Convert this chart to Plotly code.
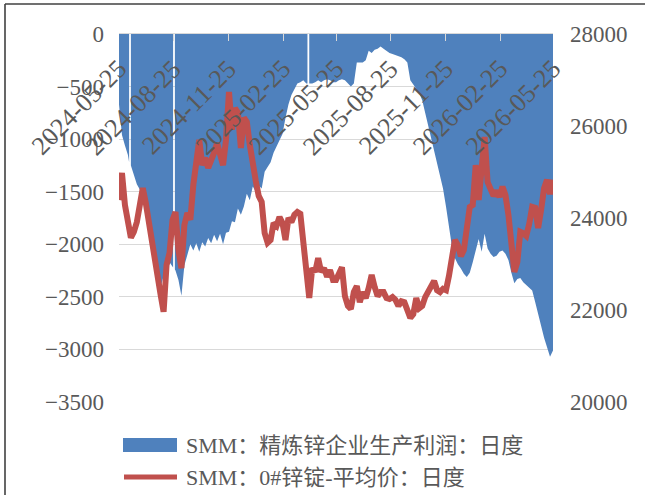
import pandas as pd
import plotly.graph_objects as go

# Sampling dates (every 5 days) shared by both series
dates = pd.date_range("2024-05-25", periods=147, freq="5D")

# Dates with no profit quote (breaks in the area)
profit_gaps = ["2024-06-12", "2024-08-25", "2025-04-08"]
# extra profit quotes on the days next to those breaks
edge_dates = ["2024-06-11", "2024-08-24", "2024-08-27", "2025-04-07"]
edge_profit = [-1220, -2220, -2240, -470]

# SMM refined zinc smelter production profit, yuan/t
profit = [
    -670, -960, -1060, -1150, -1250, -1350, -1430, -1480, -1560, -1690,
    -1830, -1980, -2130, -2210, -2410, -2300, -2320, -2170, -2210, -2250,
    -2340, -2490, -2200, -2110, -2000, -2060, -1990, -2070, -1980, -2020,
    -1940, -1990, -1910, -1970, -1900, -2000, -1890, -1880, -1780, -1790,
    -1660, -1720, -1640, -1520, -1580, -1450, -1500, -1440, -1470, -1310,
    -1260, -1220, -1130, -1070, -1020, -950, -800, -670, -580, -530,
    -470, -460, -440, -470, -470, -470, -460, -440, -460, -440,
    -430, -440, -460, -460, -440, -430, -440, -470, -500, -470,
    -270, -270, -270, -250, -160, -180, -150, -140, -120, -140,
    -160, -180, -190, -200, -210, -220, -240, -270, -440, -480,
    -530, -560, -630, -750, -870, -980, -1080, -1220, -1340, -1470,
    -1640, -1820, -2020, -2130, -2190, -2230, -2280, -2310, -2270, -2170,
    -2060, -1950, -2070, -1900, -2040, -2090, -2120, -2110, -2070, -2060,
    -2090, -2150, -2270, -2370, -2330, -2320, -2360, -2390, -2420, -2440,
    -2550, -2670, -2780, -2890, -2980, -3070, -3010,
]

# SMM 0# zinc ingot average price, yuan/t
price = [
    24390, 24980, 24280, 23960, 23570, 23700, 23910, 24280, 24650, 24330,
    23910, 23480, 22980, 22700, 22330, 21960, 22980, 23240, 23960, 24130,
    23300, 22910, 23850, 24110, 23960, 24720, 25330, 25700, 25150, 25310,
    25090, 25310, 25420, 25630, 25370, 25150, 25700, 26740, 25920, 26390,
    26290, 25520, 26180, 26090, 25590, 25090, 24810, 24480, 24350, 23670,
    23460, 23520, 23890, 23830, 24020, 23890, 23520, 24000, 23910, 24070,
    24130, 24090, 23520, 22760, 22260, 22910, 22830, 23130, 22830, 22910,
    22720, 22870, 22650, 22650, 22830, 22930, 22300, 22090, 22020, 22390,
    22520, 22170, 22390, 22260, 22480, 22760, 22500, 22300, 22390, 22390,
    22260, 22240, 22280, 22220, 22090, 22190, 22170, 22020, 21830, 21910,
    22260, 22040, 22090, 22280, 22410, 22540, 22630, 22430, 22390, 22460,
    22430, 22740, 23130, 23520, 23410, 23170, 23300, 23700, 24240, 24280,
    25150, 24390, 25220, 25760, 24780, 24650, 24480, 24590, 24460, 24680,
    24500, 24070, 23410, 22830, 23040, 23700, 23670, 23610, 23870, 24240,
    24220, 23780, 24180, 24650, 24830, 24520, 24830,
]

tick_dates = ["2024-05-25", "2024-08-25", "2024-11-25", "2025-02-25", "2025-05-25",
              "2025-08-25", "2025-11-25", "2026-02-25", "2026-05-25"]

name_profit = "SMM：精炼锌企业生产利润：日度"
name_price = "SMM：0#锌锭-平均价：日度"

BLUE = "#4F81BD"
RED = "#C0504D"
GREY = "#595959"
FONT = "Liberation Serif, Noto Sans CJK SC, serif"

W, H = 645, 495
ML, MR, MT, MB = 119, 92, 34, 93
PW, PH = W - ML - MR, H - MT - MB


def px(x):
    return (x - ML) / PW


def py(y):
    return (H - MB - y) / PH


# full profit series, then split into runs separated by the missing dates
prof = pd.Series(
    list(profit) + list(edge_profit),
    index=list(dates) + list(pd.to_datetime(edge_dates)),
).sort_index()
gap_ts = sorted(pd.to_datetime(profit_gaps))
segments = [([], [])]
gi = 0
for d, v in prof.items():
    if gi < len(gap_ts) and d > gap_ts[gi]:
        segments.append(([], []))
        gi += 1
    segments[-1][0].append(d)
    segments[-1][1].append(v)

fig = go.Figure()
for sx, sy in segments:
    fig.add_trace(go.Scatter(
        x=sx, y=sy, name=name_profit, legendgroup="profit", mode="lines",
        line=dict(width=0, color=BLUE), fill="tozeroy", fillcolor=BLUE,
        showlegend=False,
    ))
fig.add_trace(go.Scatter(
    x=dates, y=price, name=name_price, mode="lines", yaxis="y2",
    line=dict(width=6, color=RED), showlegend=False,
))

# rotated date labels hanging below the top axis line
date_labels = [
    dict(x=d, xref="x", y=1, yref="paper", text=d, textangle=-45,
         showarrow=False, xanchor="right", yanchor="top",
         xshift=16, yshift=-18, font=dict(size=26, color=GREY))
    for d in tick_dates
]

legend_text = [
    dict(xref="paper", yref="paper", x=px(184), y=py(445), text=name_profit,
         showarrow=False, xanchor="left", yanchor="middle",
         font=dict(size=22, color=GREY)),
    dict(xref="paper", yref="paper", x=px(184), y=py(477), text=name_price,
         showarrow=False, xanchor="left", yanchor="middle",
         font=dict(size=22, color=GREY)),
]

fig.update_layout(
    width=W, height=H, margin=dict(l=ML, r=MR, t=MT, b=MB, autoexpand=False),
    paper_bgcolor="white", plot_bgcolor="white",
    font=dict(family=FONT, color=GREY, size=22),
    xaxis=dict(
        type="date", side="top", range=["2024-05-25", "2026-05-25"],
        tickvals=tick_dates, showticklabels=False, ticks="inside", ticklen=7,
        tickcolor="#D9D9D9", showline=True, linecolor="#D9D9D9",
        showgrid=False, zeroline=False,
    ),
    yaxis=dict(
        range=[-3500, 0], dtick=500, showgrid=True, gridcolor="#D9D9D9",
        gridwidth=1.3, zeroline=False, showline=False, ticks="",
        ticklabelstandoff=14, tickfont=dict(size=23, color=GREY),
    ),
    yaxis2=dict(
        range=[20000, 28000], dtick=2000, overlaying="y", side="right",
        tickformat="d", showgrid=False, zeroline=False, showline=False,
        ticks="", ticklabelstandoff=16, tickfont=dict(size=23, color=GREY),
    ),
    shapes=[
        # outer frame
        dict(type="line", xref="paper", yref="paper", x0=px(5), x1=px(W + 5),
             y0=py(4), y1=py(4), line=dict(color="#404040", width=1.6)),
        dict(type="line", xref="paper", yref="paper", x0=px(5), x1=px(5),
             y0=py(4), y1=py(H + 5), line=dict(color="#404040", width=1.6)),
        # legend keys
        dict(type="rect", xref="paper", yref="paper", x0=px(123), x1=px(177),
             y0=py(438), y1=py(452), fillcolor=BLUE, line=dict(width=0)),
        dict(type="line", xref="paper", yref="paper", x0=px(124), x1=px(177),
             y0=py(477), y1=py(477), line=dict(color=RED, width=5)),
    ],
    annotations=date_labels + legend_text,
)

fig.write_html("out.html")
